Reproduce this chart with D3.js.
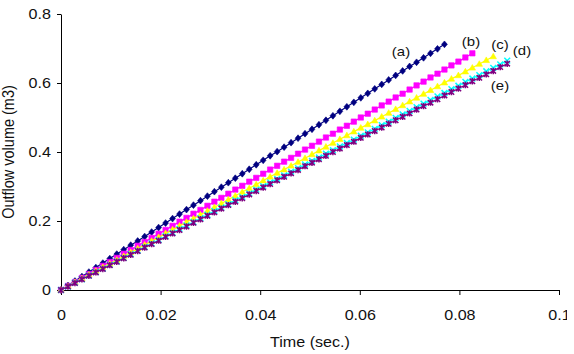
<!DOCTYPE html>
<html><head><meta charset="utf-8">
<script src="https://cdn.jsdelivr.net/npm/d3@7"></script>
<style>html,body{margin:0;padding:0;background:#fff;}svg{display:block;}</style>
</head><body>
<svg id="chart" width="574" height="354"></svg>
<script>
// ---- data ----
const times = [0,0.0014,0.0028,0.0042,0.0056,0.007,0.0084,0.0098,0.0112,0.0126,0.014,0.0154,0.0168,0.0182,0.0196,0.021,0.0224,0.0238,0.0252,0.0266,0.028,0.0294,0.0308,0.0322,0.0336,0.035,0.0364,0.0378,0.0392,0.0406,0.042,0.0434,0.0448,0.0462,0.0476,0.049,0.0504,0.0518,0.0532,0.0546,0.056,0.0574,0.0588,0.0602,0.0616,0.063,0.0644,0.0658,0.0672,0.0686,0.07,0.0714,0.0728,0.0742,0.0756,0.077,0.0784,0.0798,0.0812,0.0826,0.084,0.0854,0.0868,0.0882,0.0896];
const seriesA = [0,0.013,0.026,0.039,0.052,0.065,0.078,0.091,0.104,0.117,0.130,0.142,0.155,0.168,0.181,0.194,0.207,0.220,0.233,0.246,0.259,0.272,0.285,0.298,0.311,0.324,0.337,0.350,0.363,0.376,0.389,0.401,0.414,0.427,0.440,0.453,0.466,0.479,0.492,0.505,0.518,0.531,0.544,0.557,0.570,0.583,0.596,0.609,0.622,0.635,0.648,0.660,0.673,0.686,0.699,0.712];
const seriesB = [0,0.012,0.023,0.035,0.046,0.058,0.070,0.081,0.093,0.105,0.116,0.128,0.139,0.151,0.163,0.174,0.186,0.198,0.209,0.221,0.232,0.244,0.256,0.267,0.279,0.291,0.302,0.314,0.325,0.337,0.349,0.360,0.372,0.383,0.395,0.407,0.418,0.430,0.442,0.453,0.465,0.476,0.488,0.500,0.511,0.523,0.535,0.546,0.558,0.569,0.581,0.593,0.604,0.616,0.627,0.639,0.651,0.662,0.674,0.686];
const seriesC = [0,0.011,0.022,0.033,0.044,0.055,0.066,0.076,0.087,0.098,0.109,0.120,0.131,0.142,0.153,0.164,0.175,0.186,0.197,0.207,0.218,0.229,0.240,0.251,0.262,0.273,0.284,0.295,0.306,0.317,0.328,0.339,0.349,0.360,0.371,0.382,0.393,0.404,0.415,0.426,0.437,0.448,0.459,0.470,0.480,0.491,0.502,0.513,0.524,0.535,0.546,0.557,0.568,0.579,0.590,0.601,0.612,0.622,0.633,0.644,0.655,0.666,0.677];
const seriesD = [0,0.010,0.021,0.031,0.042,0.052,0.062,0.073,0.083,0.093,0.104,0.114,0.125,0.135,0.145,0.156,0.166,0.177,0.187,0.197,0.208,0.218,0.229,0.239,0.249,0.260,0.270,0.280,0.291,0.301,0.312,0.322,0.332,0.343,0.353,0.364,0.374,0.384,0.395,0.405,0.416,0.426,0.436,0.447,0.457,0.467,0.478,0.488,0.499,0.509,0.519,0.530,0.540,0.551,0.561,0.571,0.582,0.592,0.603,0.613,0.623,0.634,0.644,0.654,0.665];
const seriesE = [0,0.010,0.020,0.031,0.041,0.051,0.061,0.072,0.082,0.092,0.102,0.113,0.123,0.133,0.143,0.154,0.164,0.174,0.184,0.195,0.205,0.215,0.225,0.236,0.246,0.256,0.266,0.277,0.287,0.297,0.307,0.318,0.328,0.338,0.348,0.359,0.369,0.379,0.389,0.400,0.410,0.420,0.430,0.441,0.451,0.461,0.471,0.482,0.492,0.502,0.512,0.523,0.533,0.543,0.553,0.564,0.574,0.584,0.594,0.605,0.615,0.625,0.635,0.646,0.656];
const seriesNames = ["(a)","(b)","(c)","(d)","(e)"];
const xTicks = [0,0.02,0.04,0.06,0.08,0.1];
const xTickLabels = ["0","0.02","0.04","0.06","0.08","0.1"];
const yTicks = [0,0.2,0.4,0.6,0.8];
const yTickLabels = ["0","0.2","0.4","0.6","0.8"];
const xTitle = "Time (sec.)";
const yTitle = "Outflow volume (m3)";

// ---- styling ----
const colors = ["#000080","#ff00ff","#ffff00","#00ffff","#800080"];
const markerPaths = [
  "M0,-3.4L2.9,0L0,3.4L-2.9,0Z",
  "M-2.7,-2.7H2.7V2.7H-2.7Z",
  "M0,-3.3L3.2,2.3L-3.2,2.3Z",
  "M-2.9,-2.9L2.9,2.9M-2.9,2.9L2.9,-2.9",
  "M-2.7,-2.7L2.7,2.7M-2.7,2.7L2.7,-2.7M0,-3.2L0,3.2"
];
const markerFilled = [true,true,true,false,false];
const labelPos = [[401,56],[471,46],[500,49],[522,55],[500,90]];
const SX = 1.15; // horizontal text stretch of the reference
const font = "Liberation Sans, Arial, sans-serif";
const textColor = "#111";

const svg = d3.select("#chart");
svg.append("defs").append("clipPath").attr("id","crop")
  .append("rect").attr("x",0).attr("y",0).attr("width",567).attr("height",354);
const root = svg.append("g").attr("clip-path","url(#crop)");

const x = d3.scaleLinear().domain([0,0.1]).range([61,559]);
const y = d3.scaleLinear().domain([0,0.8]).range([290,14]);

const allSeries = [seriesA,seriesB,seriesC,seriesD,seriesE];

// axes
const gx = root.append("g").attr("transform","translate(0,290)")
  .call(d3.axisBottom(x).tickValues(xTicks).tickSize(5).tickSizeOuter(0)
    .tickFormat((d,i)=>xTickLabels[i]));
const gy = root.append("g").attr("transform","translate(61,0)")
  .call(d3.axisLeft(y).tickValues(yTicks).tickSize(4).tickSizeOuter(0)
    .tickFormat((d,i)=>yTickLabels[i]));
[gx,gy].forEach(g=>{
  g.select(".domain").attr("stroke","#000").attr("stroke-width",1);
  g.selectAll(".tick line").attr("stroke","#000");
  g.selectAll(".tick text").attr("font-family",font).attr("font-size",14).attr("fill",textColor);
});
gx.selectAll(".tick text").attr("y",0).attr("dy",0)
  .attr("transform","translate(0,30) scale("+SX+",1)");
gy.selectAll(".tick text").attr("x",0).attr("dy","0.35em")
  .attr("transform","translate(-10,0) scale("+SX+",1)");

// series
const line = d3.line().x((d)=>x(d[0])).y((d)=>y(d[1]));
allSeries.forEach((vals,si)=>{
  const pts = vals.map((v,i)=>[times[i],v]);
  const g = root.append("g");
  g.append("path").datum(pts).attr("d",line).attr("fill","none")
    .attr("stroke",colors[si]).attr("stroke-width",1.2);
  g.selectAll("path.m").data(pts).enter().append("path").attr("class","m")
    .attr("transform",d=>`translate(${x(d[0])},${y(d[1])})`)
    .attr("d",markerPaths[si])
    .attr("fill",markerFilled[si]?colors[si]:"none")
    .attr("stroke",colors[si]).attr("stroke-width",markerFilled[si]?0.6:1.5);
});

// series labels
seriesNames.forEach((n,i)=>{
  root.append("text").attr("transform",`translate(${labelPos[i][0]},${labelPos[i][1]}) scale(${SX},1)`)
    .attr("text-anchor","middle").attr("font-family",font).attr("font-size",13).attr("fill",textColor).text(n);
});

// titles
root.append("text").attr("transform",`translate(${(61+559)/2},347) scale(${SX},1)`)
  .attr("text-anchor","middle").attr("font-family",font).attr("font-size",14).attr("fill",textColor).text(xTitle);
root.append("text").attr("transform",`translate(14,152) scale(${SX},1) rotate(-90)`)
  .attr("text-anchor","middle").attr("font-family",font).attr("font-size",14.5).attr("fill",textColor).text(yTitle);
</script>
</body></html>
